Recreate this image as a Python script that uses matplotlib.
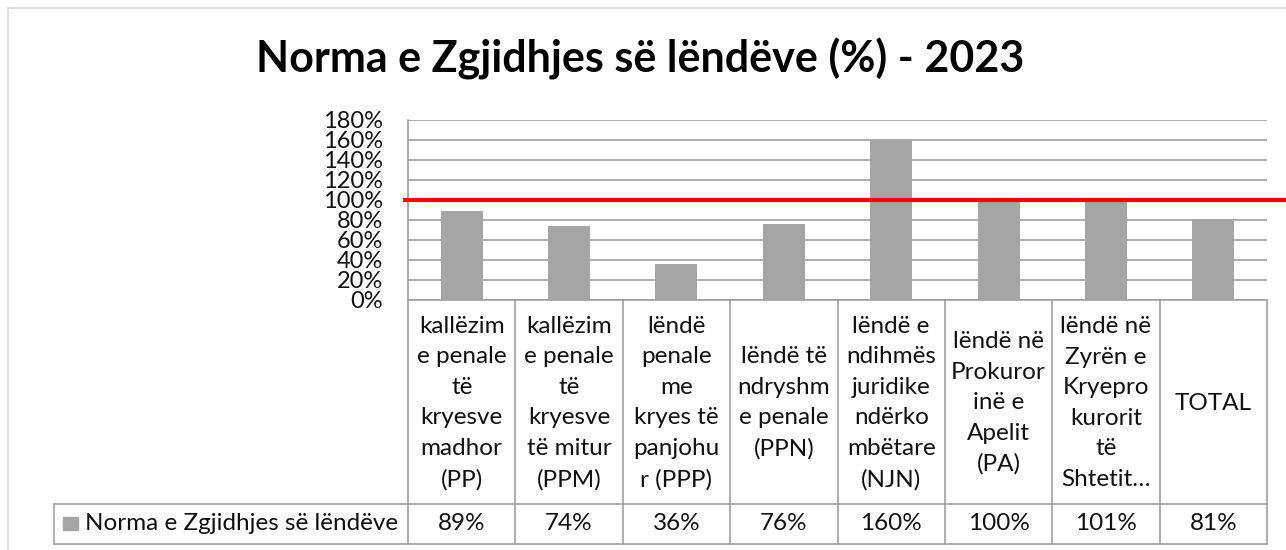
import matplotlib.pyplot as plt
import matplotlib.transforms as mtransforms
from matplotlib.lines import Line2D
from matplotlib.patches import Rectangle

categories = [
    "kallëzim\ne penale\ntë\nkryesve\nmadhor\n(PP)",
    "kallëzim\ne penale\ntë\nkryesve\ntë mitur\n(PPM)",
    "lëndë\npenale\nme\nkryes të\npanjohu\nr (PPP)",
    "lëndë të\nndryshm\ne penale\n(PPN)",
    "lëndë e\nndihmës\njuridike\nndërko\nmbëtare\n(NJN)",
    "lëndë në\nProkuror\ninë e\nApelit\n(PA)",
    "lëndë në\nZyrën e\nKryepro\nkurorit\ntë\nShtetit…",
    "TOTAL",
]
values = [0.89, 0.74, 0.36, 0.76, 1.60, 1.00, 1.01, 0.81]
value_labels = ["89%", "74%", "36%", "76%", "160%", "100%", "101%", "81%"]
series_name = "Norma e Zgjidhjes së lëndëve"
target = 1.0
title = "Norma e Zgjidhjes së lëndëve (%) - 2023"

W, H = 1286, 550
plt.rcParams["font.family"] = ["Lato", "DejaVu Sans"]

fig = plt.figure(figsize=(W / 100, H / 100), dpi=100)


def fx(px):
    return px / W


def fy(py):
    return 1 - py / H


# plot area in pixels: x 408..1267, y 120..300
ax = fig.add_axes([fx(408), fy(300), fx(1267 - 408), (300 - 120) / H])

grid_col = "#a0a0a0"
bar_col = "#a5a5a5"
txt_col = "#111111"

x = list(range(len(values)))
ax.bar(x, values, width=0.39, color=bar_col, zorder=2)
ax.set_xlim(-0.5, len(values) - 0.5)
ax.set_ylim(0, 1.8)
ax.set_yticks([i * 0.2 for i in range(10)])
ax.set_yticklabels([f"{i * 20}%" for i in range(10)], fontsize=17, color=txt_col)
ax.tick_params(axis="y", length=0, pad=18)
ax.tick_params(axis="x", length=0, labelbottom=False)
ax.grid(axis="y", color=grid_col, lw=1.2, zorder=0)
for s in ["top", "right"]:
    ax.spines[s].set_visible(False)
ax.spines["left"].set_color(grid_col)
ax.spines["bottom"].set_color(grid_col)
ax.spines["left"].set_linewidth(1.2)
ax.spines["bottom"].set_linewidth(1.2)

# red target line reaching past the plot area
ax.axhline(target, xmin=-0.003, xmax=1.03, color="#ff0000", lw=3, clip_on=False, zorder=3)

# data table below the axis
tr = mtransforms.blended_transform_factory(ax.transData, fig.transFigure)
n = len(values)
y_top, y_mid, y_bot = fy(300), fy(503.5), fy(544)
for k in range(n + 1):
    fig.add_artist(Line2D([k - 0.5, k - 0.5], [y_top, y_bot], transform=tr,
                          color=grid_col, lw=1.2))
for yy in (y_mid, y_bot):
    fig.add_artist(Line2D([fx(54), fx(408)], [yy, yy], color=grid_col, lw=1.2))
    fig.add_artist(Line2D([-0.5, n - 0.5], [yy, yy], transform=tr, color=grid_col, lw=1.2))
fig.add_artist(Line2D([fx(54), fx(54)], [y_mid, y_bot], color=grid_col, lw=1.2))

for i, (lab, v) in enumerate(zip(categories, value_labels)):
    fig.text(i, fy(403), lab, transform=tr, ha="center", va="center",
             fontsize=17.5, linespacing=1.56, color=txt_col)
    fig.text(i, fy(524), v, transform=tr, ha="center", va="center",
             fontsize=17.5, color=txt_col)

fig.add_artist(Rectangle((fx(63), fy(530)), fx(15), 13 / H, color=bar_col))
fig.text(fx(85), fy(524), series_name, ha="left", va="center", fontsize=17.5, color=txt_col)

fig.text(fx(640), fy(73), title, ha="center", va="baseline",
         fontsize=31, fontweight="bold", color="#000000")

# chart frame
fig.add_artist(Line2D([fx(8), 1], [fy(8), fy(8)], color="#d9d9d9", lw=1.2))
fig.add_artist(Line2D([fx(8), fx(8)], [fy(8), 0], color="#d9d9d9", lw=1.2))

fig.savefig("out.png", dpi=100, facecolor="white")
